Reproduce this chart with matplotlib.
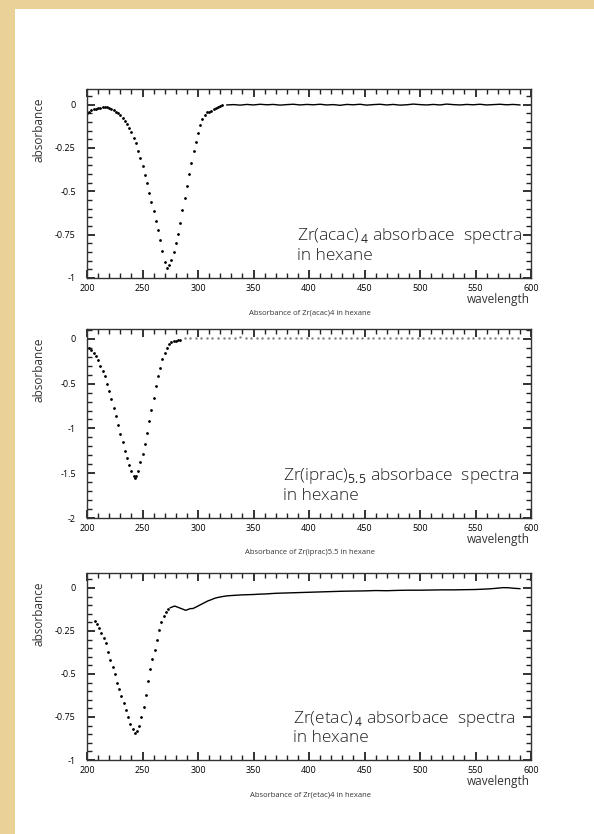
import matplotlib
matplotlib.use("Agg")
import matplotlib.pyplot as plt
from matplotlib.patches import Rectangle
from matplotlib.ticker import MultipleLocator, FixedLocator, FixedFormatter

plt.rcParams['font.family'] = ['Open Sans', 'DejaVu Sans']
plt.rcParams['mathtext.fontset'] = 'custom'
plt.rcParams['mathtext.rm'] = 'Open Sans'
plt.rcParams['axes.unicode_minus'] = False

# ---- Zr(acac)4 ----
acac_wl = [200, 202, 204, 206, 208, 210, 212, 214, 216, 218, 220, 222, 224, 226, 228, 230,
           232, 234, 236, 238, 240, 242, 244, 246, 248, 250, 252, 254, 256, 258, 260, 262,
           264, 266, 268, 270, 272, 274, 276, 278, 280, 282, 284, 286, 288, 290, 292, 294,
           296, 298, 300, 302, 304, 306, 308, 310, 312, 314, 316, 318, 320, 322]
acac_ab = [-0.050, -0.040, -0.032, -0.028, -0.025, -0.022, -0.020, -0.016, -0.014, -0.015,
           -0.020, -0.026, -0.032, -0.040, -0.050, -0.060, -0.075, -0.092, -0.110, -0.135,
           -0.160, -0.190, -0.220, -0.265, -0.310, -0.355, -0.405, -0.455, -0.510, -0.560,
           -0.615, -0.670, -0.725, -0.780, -0.845, -0.910, -0.940, -0.925, -0.895, -0.850,
           -0.800, -0.745, -0.680, -0.610, -0.540, -0.470, -0.400, -0.335, -0.270, -0.215,
           -0.165, -0.120, -0.085, -0.060, -0.045, -0.040, -0.034, -0.028, -0.020, -0.012,
           -0.006, -0.003]
acac_flat_wl = [326, 332, 338, 344, 350, 356, 362, 368, 374, 380, 386, 392, 398, 404, 410,
                416, 422, 428, 434, 440, 446, 452, 458, 464, 470, 476, 482, 488, 494, 500,
                506, 512, 518, 524, 530, 536, 542, 548, 554, 560, 566, 572, 578, 584, 590]
acac_flat_ab = [-0.002, 0.000, -0.003, 0.001, -0.002, 0.002, -0.001, 0.001, -0.003, 0.000,
                0.002, -0.002, 0.001, -0.001, 0.002, -0.002, 0.000, -0.004, 0.001, -0.001,
                0.002, -0.003, 0.000, 0.002, -0.002, 0.001, -0.003, -0.001, 0.003, 0.000,
                -0.002, 0.001, -0.002, 0.003, 0.000, -0.002, 0.001, -0.001, 0.002, -0.002,
                0.000, 0.002, -0.001, 0.001, -0.002]

# ---- Zr(iprac)5.5 ----
iprac_wl = [202, 204, 206, 208, 210, 212, 214, 216, 218, 220, 222, 224, 226, 228, 230, 232,
            234, 236, 238, 240, 242, 243, 244, 246, 248, 250, 252, 254, 256, 258, 260, 262,
            264, 266, 268, 270, 272, 274, 276, 278, 280, 282, 284]
iprac_ab = [-0.10, -0.13, -0.16, -0.19, -0.24, -0.30, -0.36, -0.42, -0.50, -0.58, -0.67,
            -0.77, -0.86, -0.96, -1.06, -1.15, -1.25, -1.33, -1.41, -1.48, -1.53, -1.55,
            -1.53, -1.47, -1.38, -1.28, -1.17, -1.05, -0.92, -0.79, -0.66, -0.53, -0.42,
            -0.32, -0.23, -0.16, -0.10, -0.06, -0.035, -0.025, -0.02, -0.015, -0.01]
iprac_flat_wl = [288, 293, 298, 303, 308, 313, 318, 323, 328, 333, 338, 343, 348, 353, 358,
                 363, 368, 373, 378, 383, 388, 393, 398, 403, 408, 413, 418, 423, 428, 433,
                 438, 443, 448, 453, 458, 463, 468, 473, 478, 483, 488, 493, 498, 503, 508,
                 513, 518, 523, 528, 533, 538, 543, 548, 553, 558, 563, 568, 573, 578, 583, 588]
iprac_flat_ab = [0.012, 0.014, 0.010, 0.013, 0.015, 0.011, 0.012, 0.014, 0.010, 0.012,
                 0.016, 0.011, 0.013, 0.012, 0.010, 0.014, 0.012, 0.011, 0.015, 0.013,
                 0.010, 0.012, 0.014, 0.011, 0.013, 0.012, 0.015, 0.010, 0.012, 0.014,
                 0.011, 0.013, 0.012, 0.010, 0.015, 0.012, 0.011, 0.013, 0.014, 0.010,
                 0.012, 0.013, 0.011, 0.015, 0.012, 0.010, 0.013, 0.012, 0.014, 0.011,
                 0.012, 0.010, 0.013, 0.012, 0.014, 0.011, 0.012, 0.013, 0.010, 0.012, 0.011]

# ---- Zr(etac)4 ----
etac_wl = [207, 209, 211, 213, 215, 217, 219, 221, 223, 225, 227, 229, 231, 233, 235, 237,
           239, 241, 243, 245, 247, 249, 251, 253, 255, 257, 259, 261, 263, 265, 267, 269,
           271, 273]
etac_ab = [-0.19, -0.21, -0.23, -0.26, -0.29, -0.32, -0.37, -0.42, -0.46, -0.50, -0.55,
           -0.59, -0.63, -0.67, -0.71, -0.75, -0.79, -0.82, -0.845, -0.83, -0.80, -0.75,
           -0.69, -0.62, -0.54, -0.47, -0.41, -0.36, -0.30, -0.245, -0.20, -0.165, -0.14,
           -0.125]
etac_flat_wl = [275, 277, 279, 281, 283, 285, 287, 289, 291, 293, 295, 297, 300, 303, 306,
                309, 312, 315, 318, 322, 326, 330, 335, 340, 345, 350, 355, 360, 365, 370,
                375, 380, 385, 390, 395, 400, 410, 420, 430, 440, 450, 460, 470, 480, 490,
                500, 510, 520, 530, 540, 550, 560, 565, 570, 575, 580, 585, 590]
etac_flat_ab = [-0.115, -0.11, -0.105, -0.11, -0.115, -0.12, -0.125, -0.13, -0.125, -0.12,
                -0.12, -0.115, -0.105, -0.095, -0.085, -0.075, -0.068, -0.060, -0.055,
                -0.050, -0.046, -0.044, -0.042, -0.040, -0.039, -0.038, -0.036, -0.035,
                -0.033, -0.031, -0.030, -0.029, -0.028, -0.027, -0.026, -0.025, -0.023,
                -0.021, -0.019, -0.018, -0.017, -0.015, -0.016, -0.014, -0.013, -0.013,
                -0.012, -0.011, -0.011, -0.010, -0.009, -0.006, -0.004, -0.001, 0.002,
                0.001, -0.002, -0.004]

panels = [
    dict(dip=(acac_wl, acac_ab), flat=(acac_flat_wl, acac_flat_ab), flat_style='line',
         ylim=(-1, 0.09), yticks=[0, -0.25, -0.5, -0.75, -1],
         ylabels=['0', '-0.25', '-0.5', '-0.75', '-1'], yminor=0.05,
         title=r'Zr(acac)$_{\,4}$ absorbace  spectra' + '\nin hexane', title_x=0.474,
         caption='Absorbance of Zr(acac)4 in hexane',
         box=(89, 278)),
    dict(dip=(iprac_wl, iprac_ab), flat=(iprac_flat_wl, iprac_flat_ab), flat_style='dots',
         ylim=(-2, 0.11), yticks=[0, -0.5, -1, -1.5, -2],
         ylabels=['0', '-0.5', '-1', '-1.5', '-2'], yminor=0.1,
         title=r'Zr(iprac)$_{5.5}$ absorbace  spectra' + '\nin hexane', title_x=0.441,
         caption='Absorbance of Zr(iprac)5.5 in hexane',
         box=(329, 518)),
    dict(dip=(etac_wl, etac_ab), flat=(etac_flat_wl, etac_flat_ab), flat_style='line',
         ylim=(-1, 0.087), yticks=[0, -0.25, -0.5, -0.75, -1],
         ylabels=['0', '-0.25', '-0.5', '-0.75', '-1'], yminor=0.05,
         title=r'Zr(etac)$_{\,4}$ absorbace  spectra' + '\nin hexane', title_x=0.464,
         caption='Absorbance of Zr(etac)4 in hexane',
         box=(573, 760)),
]

W, H = 594, 834
fig = plt.figure(figsize=(W / 100, H / 100), dpi=100)
fig.patch.set_facecolor('#EAD198')
fig.patches.append(Rectangle((15 / W, 0), 1 - 15 / W, 1 - 9 / H, transform=fig.transFigure,
                             facecolor='white', edgecolor='none', zorder=-10))

x_left, x_right = 87, 531
for p in panels:
    top, bottom = p['box']
    ax = fig.add_axes([x_left / W, 1 - bottom / H, (x_right - x_left) / W, (bottom - top) / H])
    ax.set_facecolor('white')
    wl, ab = p['dip']
    ax.plot(wl, ab, linestyle='none', marker='o', markersize=1.0, color='black')
    fw, fa = p['flat']
    if p['flat_style'] == 'line':
        ax.plot(fw, fa, color='black', linewidth=1.0)
    else:
        ax.plot(fw, fa, linestyle='none', marker='o', markersize=0.8, color='#888888')

    ax.set_xlim(200, 600)
    ax.set_ylim(*p['ylim'])
    ax.xaxis.set_major_locator(MultipleLocator(50))
    ax.xaxis.set_minor_locator(MultipleLocator(10))
    ax.yaxis.set_major_locator(FixedLocator(p['yticks']))
    ax.yaxis.set_major_formatter(FixedFormatter(p['ylabels']))
    ax.yaxis.set_minor_locator(MultipleLocator(p['yminor']))
    ax.tick_params(which='both', direction='in', top=True, right=True, color='#222222')
    ax.tick_params(which='major', length=6, width=1.3, labelsize=6.5, pad=4)
    ax.tick_params(which='minor', length=3.5, width=1.0)
    ax.tick_params(axis='y', which='major', pad=8)
    for s in ax.spines.values():
        s.set_color('#333333')
        s.set_linewidth(1.0)

    ax.text(p['title_x'], 0.175, p['title'], transform=ax.transAxes, fontsize=12.5,
            ha='left', va='center', linespacing=1.1, color='#222222', fontweight='light')

    fig.text(39 / W, 1 - (top + 41) / H, 'absorbance', rotation=90, ha='center',
             va='center', fontsize=8.5, color='#333333')
    fig.text(530 / W, 1 - (bottom + 22) / H, 'wavelength', ha='right', va='center',
             fontsize=8.5, color='#333333')
    fig.text(310 / W, 1 - (bottom + 35) / H, p['caption'], ha='center', va='center',
             fontsize=5.5, color='#333333')

fig.savefig('out.png', dpi=100, facecolor=fig.get_facecolor())
